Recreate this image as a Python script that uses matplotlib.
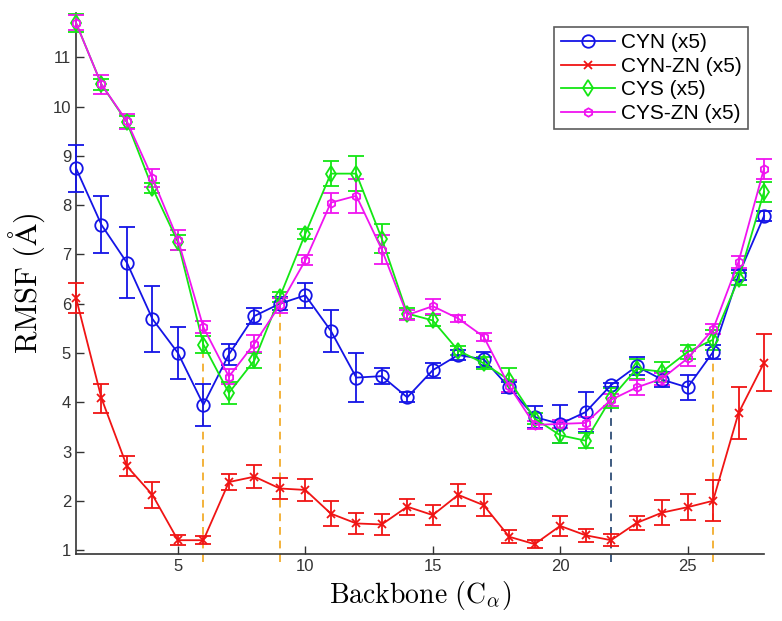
import numpy as np
import matplotlib
matplotlib.use("Agg")
import matplotlib.pyplot as plt
from matplotlib.lines import Line2D

plt.rcParams['font.family'] = ['Liberation Sans', 'DejaVu Sans']
plt.rcParams['mathtext.fontset'] = 'cm'

residues = list(range(1, 29))

cyn = [8.75, 7.6, 6.83, 5.69, 5.0, 3.95, 4.97, 5.75, 6.0, 6.17, 5.45, 4.5, 4.53, 4.1,
       4.65, 4.96, 4.87, 4.3, 3.7, 3.56, 3.8, 4.35, 4.73, 4.46, 4.3, 5.02, 6.58, 7.78]
cyn_err = [0.48, 0.58, 0.72, 0.67, 0.52, 0.43, 0.22, 0.17, 0.13, 0.25, 0.43, 0.5, 0.16, 0.1,
           0.15, 0.1, 0.15, 0.12, 0.22, 0.38, 0.4, 0.05, 0.18, 0.15, 0.25, 0.15, 0.1, 0.1]

cynzn = [6.12, 4.08, 2.7, 2.12, 1.2, 1.2, 2.38, 2.49, 2.25, 2.22, 1.74, 1.54, 1.52, 1.88,
         1.71, 2.12, 1.91, 1.27, 1.12, 1.49, 1.3, 1.2, 1.55, 1.76, 1.87, 2.0, 3.78, 4.8]
cynzn_err = [0.3, 0.3, 0.2, 0.27, 0.1, 0.08, 0.17, 0.23, 0.22, 0.22, 0.25, 0.22, 0.22, 0.16,
             0.2, 0.22, 0.22, 0.13, 0.08, 0.2, 0.13, 0.12, 0.15, 0.25, 0.27, 0.42, 0.53, 0.58]

cys = [11.7, 10.45, 9.68, 8.35, 7.25, 5.17, 4.19, 4.85, 6.14, 7.42, 8.64, 8.64, 7.32, 5.8,
       5.66, 5.05, 4.79, 4.45, 3.67, 3.33, 3.22, 4.08, 4.68, 4.62, 5.02, 5.27, 6.5, 8.27]
cys_err = [0.18, 0.12, 0.12, 0.1, 0.15, 0.18, 0.22, 0.15, 0.1, 0.1, 0.25, 0.35, 0.3, 0.12,
           0.12, 0.1, 0.12, 0.25, 0.12, 0.15, 0.15, 0.2, 0.2, 0.2, 0.15, 0.2, 0.12, 0.2]

cyszn = [11.7, 10.45, 9.7, 8.55, 7.3, 5.52, 4.52, 5.19, 5.97, 6.88, 8.05, 8.19, 7.1, 5.77,
         5.95, 5.7, 5.33, 4.33, 3.54, 3.56, 3.58, 4.05, 4.3, 4.48, 4.89, 5.48, 6.85, 8.74]
cyszn_err = [0.15, 0.2, 0.15, 0.18, 0.2, 0.12, 0.15, 0.17, 0.15, 0.1, 0.2, 0.35, 0.3, 0.1,
             0.15, 0.08, 0.08, 0.12, 0.08, 0.08, 0.12, 0.12, 0.15, 0.12, 0.15, 0.1, 0.12, 0.2]

# vertical dashed guide lines: position, top value, colour
guide_x = [6, 9, 22, 26]
guide_top = [5.55, 6.1, 4.35, 5.5]
guide_colors = ['#f3b23b', '#f3b23b', '#3d5a80', '#f3b23b']

labels = ['CYN (x5)', 'CYN-ZN (x5)', 'CYS (x5)', 'CYS-ZN (x5)']
colors = ['#1414e6', '#f01414', '#14e614', '#f014f0']
markers = ['o', 'x', 'd', 'h']
msizes = [9, 6, 8, 6]

fig = plt.figure(figsize=(7.82, 6.21), dpi=100)
ax = fig.add_axes([76/782, 67/621, 688/782, 541/621])

for gx, gt, gc in zip(guide_x, guide_top, guide_colors):
    ax.plot([gx, gx], [0.75, gt], ls=(0, (4, 3)), color=gc, lw=1.4, clip_on=False, zorder=1)

series = [(cyn, cyn_err), (cynzn, cynzn_err), (cys, cys_err), (cyszn, cyszn_err)]
handles = []
for (vals, errs), lab, c, m, ms in zip(series, labels, colors, markers, msizes):
    ax.errorbar(residues, vals, yerr=errs, color=c, marker=m, ms=ms, mfc='none', mec=c,
                mew=1.3, lw=1.3, elinewidth=1.3, capsize=6, capthick=1.3,
                clip_on=False, zorder=3)
    handles.append(Line2D([], [], color=c, marker=m, ms=ms, mfc='none', mec=c, mew=1.3,
                          lw=1.3, label=lab))

ax.set_xlim(1, 28)
ax.set_ylim(0.92, 11.9)
ax.set_xticks([5, 10, 15, 20, 25])
ax.set_yticks(range(1, 12))
ax.tick_params(direction='in', length=6, width=1, labelsize=12, colors='#333333')
for s in ['top', 'right']:
    ax.spines[s].set_visible(False)
for s in ['left', 'bottom']:
    ax.spines[s].set_linewidth(1.2)
    ax.spines[s].set_color('#333333')

ax.set_xlabel(r'$\mathrm{Backbone\ (C_\alpha)}$', fontsize=20, labelpad=4)
ax.set_ylabel(r'$\mathrm{RMSF\ (\AA)}$', fontsize=22, labelpad=4)

leg = ax.legend(handles=handles, loc='upper right', bbox_to_anchor=(748/782, 1 - 27/621),
                bbox_transform=fig.transFigure,
                fontsize=15, frameon=True, fancybox=False, edgecolor='#333333',
                handlelength=2.6, borderpad=0.3, labelspacing=0.22, handletextpad=0.3,
                borderaxespad=0)
leg.get_frame().set_linewidth(1.2)

fig.savefig('out.png', dpi=100)
